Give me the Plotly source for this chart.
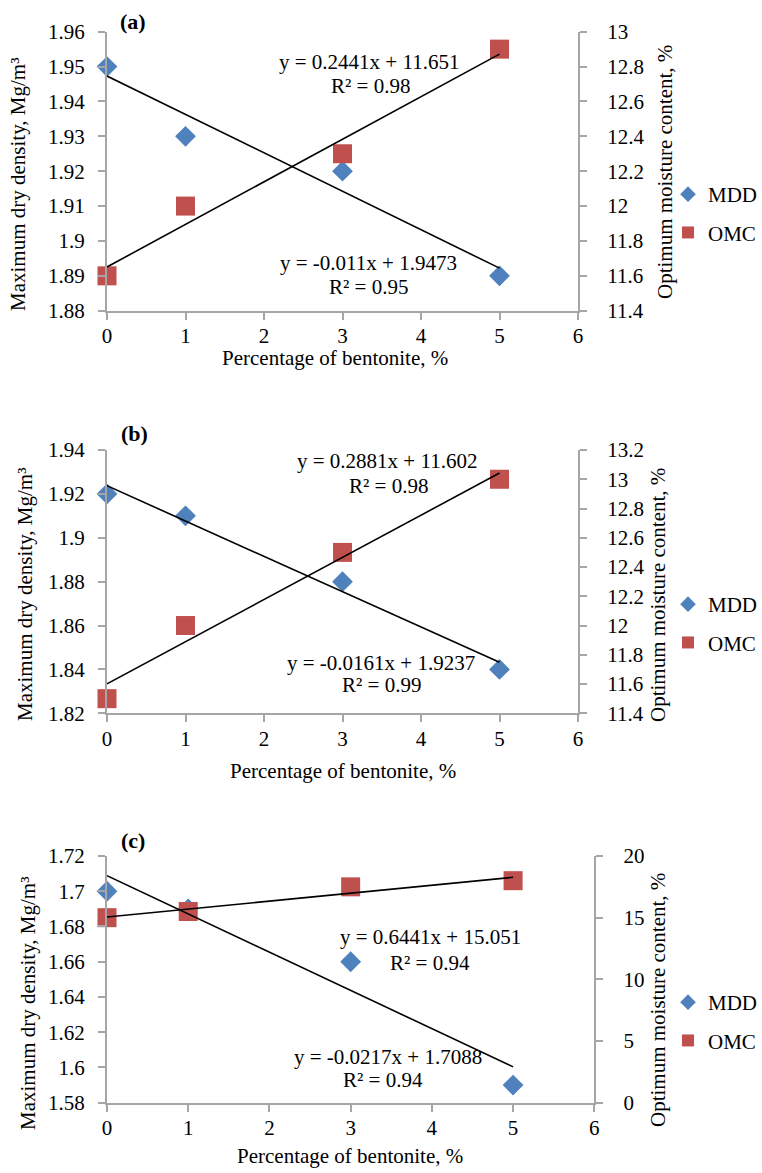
import numpy as np
import plotly.graph_objects as go

W, H = 762, 1173

# ---------------- data ----------------
bentonite = [0, 1, 3, 5]

mdd_a = [1.95, 1.93, 1.92, 1.89]
omc_a = [11.6, 12.0, 12.3, 12.9]
mdd_b = [1.92, 1.91, 1.88, 1.84]
omc_b = [11.5, 12.0, 12.5, 13.0]
mdd_c = [1.70, 1.69, 1.66, 1.59]
omc_c = [15.0, 15.5, 17.5, 18.0]

x_ticks = [0, 1, 2, 3, 4, 5, 6]

left_ticks_a = [1.88, 1.89, 1.90, 1.91, 1.92, 1.93, 1.94, 1.95, 1.96]
left_text_a = ["1.88", "1.89", "1.9", "1.91", "1.92", "1.93", "1.94", "1.95", "1.96"]
right_ticks_a = [11.4, 11.6, 11.8, 12.0, 12.2, 12.4, 12.6, 12.8, 13.0]
right_text_a = ["11.4", "11.6", "11.8", "12", "12.2", "12.4", "12.6", "12.8", "13"]

left_ticks_b = [1.82, 1.84, 1.86, 1.88, 1.90, 1.92, 1.94]
left_text_b = ["1.82", "1.84", "1.86", "1.88", "1.9", "1.92", "1.94"]
right_ticks_b = [11.4, 11.6, 11.8, 12.0, 12.2, 12.4, 12.6, 12.8, 13.0, 13.2]
right_text_b = ["11.4", "11.6", "11.8", "12", "12.2", "12.4", "12.6", "12.8", "13", "13.2"]

left_ticks_c = [1.58, 1.60, 1.62, 1.64, 1.66, 1.68, 1.70, 1.72]
left_text_c = ["1.58", "1.6", "1.62", "1.64", "1.66", "1.68", "1.7", "1.72"]
right_ticks_c = [0, 5, 10, 15, 20]
right_text_c = ["0", "5", "10", "15", "20"]

eq_omc = ["y = 0.2441x + 11.651", "y = 0.2881x + 11.602", "y = 0.6441x + 15.051"]
r2_omc = ["R² = 0.98", "R² = 0.98", "R² = 0.94"]
eq_mdd = ["y = -0.011x + 1.9473", "y = -0.0161x + 1.9237", "y = -0.0217x + 1.7088"]
r2_mdd = ["R² = 0.95", "R² = 0.99", "R² = 0.94"]
panel_labels = ["(a)", "(b)", "(c)"]

x_title = "Percentage of bentonite, %"
left_title = "Maximum dry density, Mg/m³"
right_title = "Optimum moisture content, %"

# ---------------- styling ----------------
FONT = "Liberation Serif, Times New Roman, serif"
BLUE = "#4F81BD"
RED = "#C0504D"
AXIS = "#A6A6A6"
FS = 21


def px(x):
    return x / W


def py(y):
    return 1 - y / H


# plot areas in pixels (left, right, top, bottom)
areas = [
    dict(l=107, r=578, t=31.7, b=310.7),
    dict(l=107, r=578, t=450.0, b=713.3),
    dict(l=107, r=594.3, t=856.0, b=1102.7),
]

# text placements (pixel centers)
txt = [
    dict(eo=(369, 62), ro=(370, 86), em=(368, 263), rm=(368, 287), lab=(133, 22),
         xt=(335, 358), lt=(18, 185), rt=(665, 172), leg=(668, 174)),
    dict(eo=(387, 461), ro=(388, 486), em=(381, 663), rm=(381, 685), lab=(134, 433),
         xt=(343, 771), lt=(25, 595), rt=(658, 595), leg=(668, 584)),
    dict(eo=(430, 937), ro=(430, 963), em=(388, 1057), rm=(383, 1080), lab=(133, 840),
         xt=(350, 1156), lt=(28, 1004), rt=(658, 1000), leg=(668, 982)),
]

datasets = [
    (mdd_a, omc_a, left_ticks_a, left_text_a, right_ticks_a, right_text_a),
    (mdd_b, omc_b, left_ticks_b, left_text_b, right_ticks_b, right_text_b),
    (mdd_c, omc_c, left_ticks_c, left_text_c, right_ticks_c, right_text_c),
]

fig = go.Figure()
layout = dict(
    width=W, height=H,
    margin=dict(l=0, r=0, t=0, b=0, autoexpand=False),
    paper_bgcolor="white", plot_bgcolor="white",
    font=dict(family=FONT, size=FS, color="black"),
    showlegend=True,
)
annotations = []

axis_common = dict(
    showline=True, linecolor=AXIS, linewidth=2, ticks="outside",
    tickcolor=AXIS, ticklen=7, tickwidth=2, showgrid=False, zeroline=False,
    tickfont=dict(size=FS), automargin=False,
)

for i, (area, (mdd, omc, lt, ltx, rt, rtx), tp) in enumerate(zip(areas, datasets, txt)):
    xn = "x" if i == 0 else f"x{i + 1}"
    ids = [3 * i + 1, 3 * i + 2, 3 * i + 3]  # left, right, hidden (mdd trend)
    yl, yr, yh = [("y" if k == 1 else f"y{k}") for k in ids]
    xkey = "xaxis" if i == 0 else f"xaxis{i + 1}"
    legname = "legend" if i == 0 else f"legend{i + 1}"

    xdom = [px(area["l"]), px(area["r"])]
    ydom = [py(area["b"]), py(area["t"])]
    lrange = [lt[0], lt[-1]]
    rrange = [rt[0], rt[-1]]

    layout[xkey] = dict(
        domain=xdom, anchor=yl, range=[0, 6], tickvals=x_ticks,
        ticktext=[str(v) for v in x_ticks], ticklabelstandoff=-2, **axis_common,
    )
    layout["yaxis" if ids[0] == 1 else f"yaxis{ids[0]}"] = dict(
        domain=ydom, anchor=xn, range=lrange, tickvals=lt, ticktext=ltx,
        ticklabelstandoff=9, **axis_common,
    )
    layout[f"yaxis{ids[1]}"] = dict(
        overlaying=yl, side="right", anchor=xn, range=rrange, tickvals=rt, ticktext=rtx,
        ticklabelstandoff=16, **axis_common,
    )
    layout[f"yaxis{ids[2]}"] = dict(
        overlaying=yl, anchor=xn, range=lrange, visible=False, showgrid=False,
        zeroline=False, automargin=False,
    )

    fig.add_trace(go.Scatter(
        x=bentonite, y=mdd, mode="markers", name="MDD", xaxis=xn, yaxis=yl,
        marker=dict(symbol="diamond", size=16, color=BLUE),
        legend=legname, legendgroup=f"mdd{i}", cliponaxis=False,
    ))
    fig.add_trace(go.Scatter(
        x=bentonite, y=omc, mode="markers", name="OMC", xaxis=xn, yaxis=yr,
        marker=dict(symbol="square", size=19, color=RED),
        legend=legname, legendgroup=f"omc{i}", cliponaxis=False,
    ))
    # linear trendlines (least squares) drawn over x = 0..5
    xs = np.array([min(bentonite), max(bentonite)], dtype=float)
    k_o, b_o = np.polyfit(bentonite, omc, 1)
    k_m, b_m = np.polyfit(bentonite, mdd, 1)
    fig.add_trace(go.Scatter(
        x=xs, y=k_o * xs + b_o, mode="lines", xaxis=xn, yaxis=yr,
        line=dict(color="black", width=1.6), showlegend=False, hoverinfo="skip",
    ))
    fig.add_trace(go.Scatter(
        x=xs, y=k_m * xs + b_m, mode="lines", xaxis=xn, yaxis=yh,
        line=dict(color="black", width=1.6), showlegend=False, hoverinfo="skip",
    ))

    lx, ly = tp["leg"]
    layout[legname] = dict(
        x=px(lx), y=py(ly), xanchor="left", yanchor="top",
        font=dict(family=FONT, size=FS), traceorder="grouped",
        tracegroupgap=8, itemsizing="constant", bgcolor="rgba(0,0,0,0)",
    )

    def ann(text, pos, **kw):
        d = dict(text=text, x=px(pos[0]), y=py(pos[1]), xref="paper", yref="paper",
                 xanchor="center", yanchor="middle", showarrow=False,
                 font=dict(family=FONT, size=FS, color="black"))
        d.update(kw)
        annotations.append(d)

    ann(eq_omc[i], tp["eo"])
    ann(r2_omc[i], tp["ro"])
    ann(eq_mdd[i], tp["em"])
    ann(r2_mdd[i], tp["rm"])
    ann(f"<b>{panel_labels[i]}</b>", tp["lab"], font=dict(family=FONT, size=22, color="black"))
    ann(x_title, tp["xt"])
    ann(left_title, tp["lt"], textangle=-90)
    ann(right_title, tp["rt"], textangle=-90)

layout["annotations"] = annotations
fig.update_layout(**layout)
fig.write_html(
    "out.html",
    config={"displayModeBar": False},
    post_script="document.body.style.margin='0';document.body.style.padding='0';",
)
